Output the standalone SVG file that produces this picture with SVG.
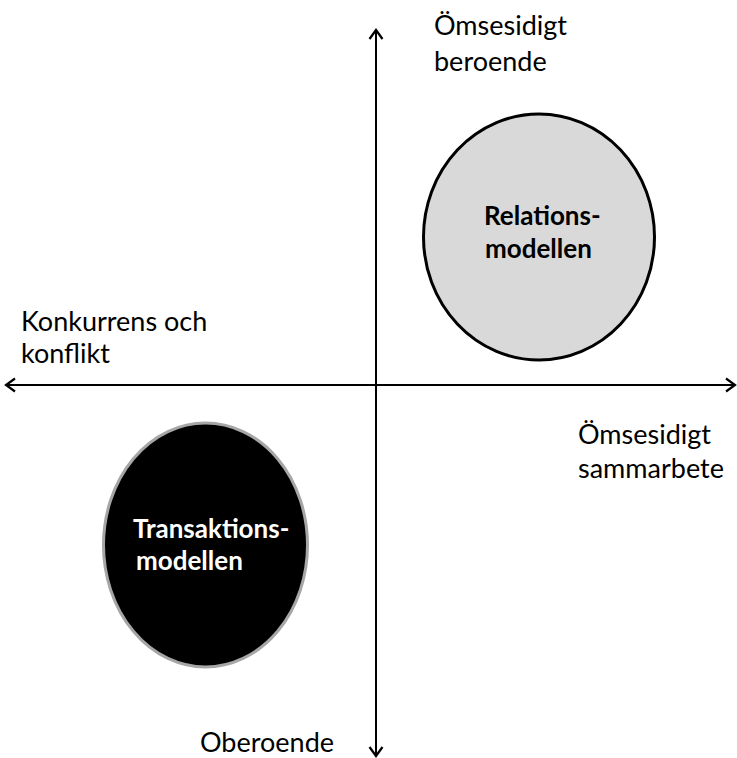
<svg xmlns="http://www.w3.org/2000/svg" width="737" height="758" viewBox="0 0 737 758">
<defs>
<marker id="arr" markerUnits="userSpaceOnUse" markerWidth="14" markerHeight="16" refX="11" refY="8" orient="auto" overflow="visible">
<path d="M2,1.5 L11,8 L2,14.5" fill="none" stroke="#000" stroke-width="2.2"/>
</marker>
<style>
.lbl{font-family:Lato,"Liberation Sans",sans-serif;font-size:27px;fill:#000}
.nl{font-family:Lato,"Liberation Sans",sans-serif;font-size:26px;font-weight:bold}
.axis{stroke:#000;stroke-width:2;fill:none}
</style>
</defs>
<rect width="737" height="758" fill="#fff"/>
<g id="connectors">
<line class="axis" x1="376" y1="745" x2="376" y2="30" marker-end="url(#arr)"/>
<line class="axis" x1="376" y1="40" x2="376" y2="756" marker-end="url(#arr)"/>
<line class="axis" x1="720" y1="385" x2="6" y2="385" marker-end="url(#arr)"/>
<line class="axis" x1="20" y1="385" x2="735" y2="385" marker-end="url(#arr)"/>
</g>
<g id="relationsmodellen">
<ellipse cx="539" cy="237" rx="115.5" ry="123" fill="#d9d9d9" stroke="#000" stroke-width="3"/>
<text class="nl" fill="#000"><tspan x="484" y="225">Relations-</tspan><tspan x="485" y="258">modellen</tspan></text>
</g>
<g id="transaktionsmodellen">
<ellipse cx="205.5" cy="545" rx="102" ry="122" fill="#000" stroke="#a6a6a6" stroke-width="3"/>
<text class="nl" fill="#fff"><tspan x="133" y="538">Transaktions-</tspan><tspan x="136" y="570">modellen</tspan></text>
</g>
<g id="label-top"><text class="lbl"><tspan x="434" y="35">Ömsesidigt</tspan><tspan x="434" y="71">beroende</tspan></text></g>
<g id="label-left"><text class="lbl"><tspan x="21" y="331">Konkurrens och</tspan><tspan x="21" y="363">konflikt</tspan></text></g>
<g id="label-right"><text class="lbl"><tspan x="578" y="444">Ömsesidigt</tspan><tspan x="578" y="478">sammarbete</tspan></text></g>
<g id="label-bottom"><text class="lbl"><tspan x="200" y="752">Oberoende</tspan></text></g>
</svg>
